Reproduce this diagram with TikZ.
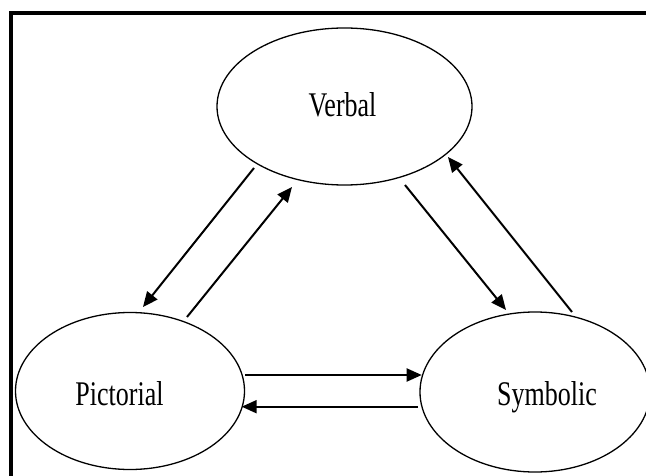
\documentclass[tikz,border=0pt]{standalone}
\usepackage{graphicx}
\usepackage{fontspec}
\setmainfont{Liberation Serif}
\usetikzlibrary{shapes.geometric,arrows.meta,calc}
\begin{document}
\begin{tikzpicture}[x=1pt,y=-1pt,
  oval/.style={draw,ellipse,line width=1.3pt,inner sep=0pt},
  lbl/.style={anchor=base,inner sep=0pt,font=\fontsize{26}{30}\selectfont},
  conn/.style={line width=2pt,-{Triangle[length=15pt,width=13pt]}}]
\useasboundingbox (0,0) rectangle (646,476);
\clip (0,0) rectangle (646,476);
\fill[white] (0,0) rectangle (646,476);
\draw[line width=4pt] (11,13) rectangle (700,560);
\node[oval,minimum width=255pt,minimum height=157pt] (v) at (344.5,106.5) {};
\node[oval,minimum width=229pt,minimum height=157pt] (p) at (130,391) {};
\node[oval,minimum width=230pt,minimum height=160pt] (s) at (535,392) {};
\node[lbl] (vt) at (342.5,116.7) {\scalebox{1}[1.33]{Verbal}};
\node[lbl] (pt) at (119.5,405) {\scalebox{1}[1.33]{Pictorial}};
\node[lbl] (st) at (547,405) {\scalebox{1}[1.33]{Symbolic}};
\draw[conn] ($(v)+(-90.5,61.5)$) -- ($(p)+(13,-84)$);
\draw[conn] ($(p)+(57,-74)$) -- ($(v)+(-52.5,80.5)$);
\draw[conn] ($(v)+(60.5,78.5)$) -- ($(s)+(-29,-82)$);
\draw[conn] ($(s)+(37,-80)$) -- ($(v)+(103.5,50.5)$);
\draw[conn] ($(p)+(115,-16)$) -- ($(s)+(-113.3,-17)$);
\draw[conn] ($(s)+(-117,14.7)$) -- ($(p)+(111.7,15.7)$);
\end{tikzpicture}
\end{document}
